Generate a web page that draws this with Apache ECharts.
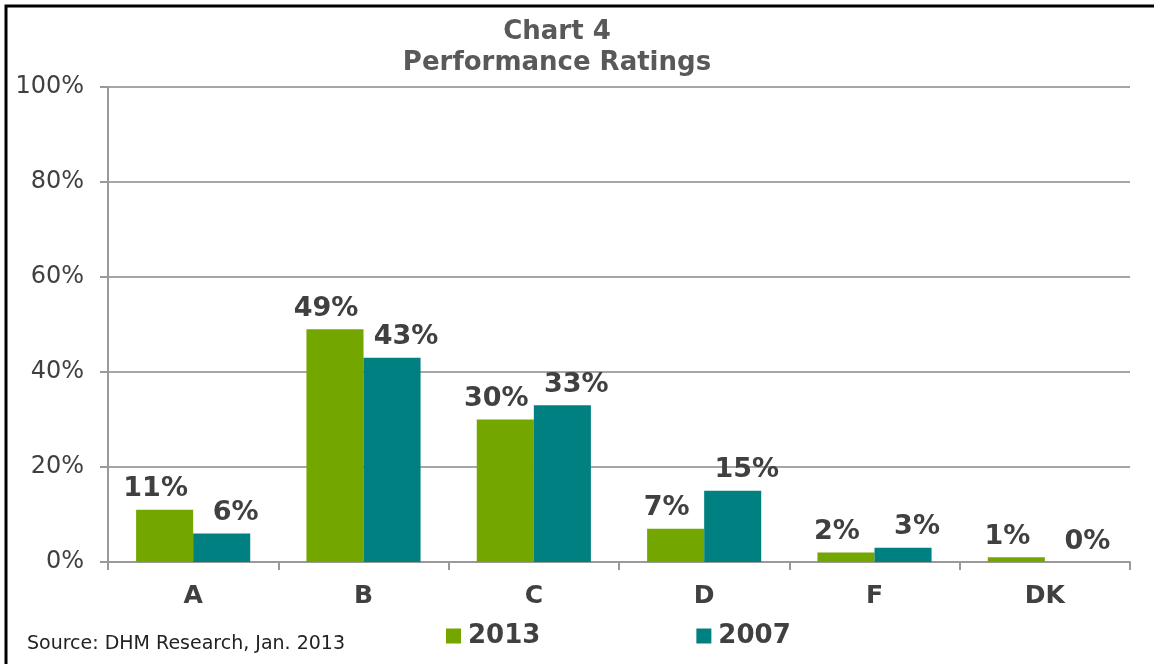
<!DOCTYPE html>
<html>
<head>
<meta charset="utf-8">
<script src="https://cdn.jsdelivr.net/npm/echarts@6/dist/echarts.min.js"></script>
<style>
  html, body { margin: 0; padding: 0; background: #fff; }
  #chart { width: 1154px; height: 664px; }
</style>
</head>
<body>
<div id="chart"></div>
<script>
const categories = ['A', 'B', 'C', 'D', 'F', 'DK'];
const values2013 = [11, 49, 30, 7, 2, 1];
const values2007 = [6, 43, 33, 15, 3, 0];
const yTicks = [0, 20, 40, 60, 80, 100];

const chart = echarts.init(document.getElementById('chart'));
const fontFamily = 'Verdana, "DejaVu Sans", sans-serif';
const textColor = '#404040';

// bar value labels, nudged sideways like the original
const makeLabel = (dx) => ({
  show: true,
  position: 'top',
  distance: 7,
  offset: [dx, 0],
  color: textColor,
  fontFamily: fontFamily,
  fontWeight: 'bold',
  fontSize: 27,
  formatter: p => p.value + '%'
});

chart.setOption({
  backgroundColor: '#fff',
  animation: false,
  title: {
    text: 'Chart 4\nPerformance Ratings',
    left: 552,
    top: 12,
    textAlign: 'center',
    textStyle: {
      color: '#595959',
      fontFamily: fontFamily,
      fontWeight: 'bold',
      fontSize: 26,
      lineHeight: 31
    }
  },
  legend: {
    top: 623,
    left: 446,
    padding: 0,
    itemWidth: 15,
    itemHeight: 15,
    itemGap: 156,
    icon: 'rect',
    textStyle: {
      color: textColor,
      fontFamily: fontFamily,
      fontWeight: 'bold',
      fontSize: 26,
      padding: [0, 0, 0, 2]
    },
    data: ['2013', '2007']
  },
  grid: { left: 108, right: 24, top: 87, bottom: 102 },
  xAxis: {
    type: 'category',
    data: categories,
    axisLine: { lineStyle: { color: '#999', width: 2 } },
    axisTick: { show: true, length: 8, lineStyle: { color: '#999', width: 2 } },
    axisLabel: {
      margin: 22,
      color: textColor,
      fontFamily: fontFamily,
      fontWeight: 'bold',
      fontSize: 25
    }
  },
  yAxis: {
    type: 'value',
    min: 0,
    max: 100,
    interval: 20,
    axisLine: { show: true, lineStyle: { color: '#999', width: 2 } },
    axisTick: { show: true, length: 8, lineStyle: { color: '#999', width: 2 } },
    splitLine: { lineStyle: { color: '#a6a6a6', width: 2 } },
    axisLabel: {
      margin: 24,
      color: textColor,
      fontFamily: fontFamily,
      fontSize: 24,
      formatter: v => yTicks.includes(v) ? v + '%' : ''
    }
  },
  series: [
    {
      name: '2013',
      type: 'bar',
      data: values2013,
      barGap: '0%',
      barCategoryGap: '33%',
      itemStyle: { color: '#74a600' },
      label: makeLabel(-9)
    },
    {
      name: '2007',
      type: 'bar',
      data: values2007,
      itemStyle: { color: '#008080' },
      label: makeLabel(14)
    }
  ],
  graphic: [
    {
      type: 'polyline',
      shape: { points: [[6, 664], [6, 6], [1154, 6]] },
      style: { stroke: '#000', lineWidth: 3, fill: null }
    },
    {
      type: 'text',
      left: 27,
      top: 635,
      style: {
        text: 'Source: DHM Research, Jan. 2013',
        fill: '#222',
        font: '19px Verdana, "DejaVu Sans", sans-serif'
      }
    }
  ]
});
</script>
</body>
</html>
